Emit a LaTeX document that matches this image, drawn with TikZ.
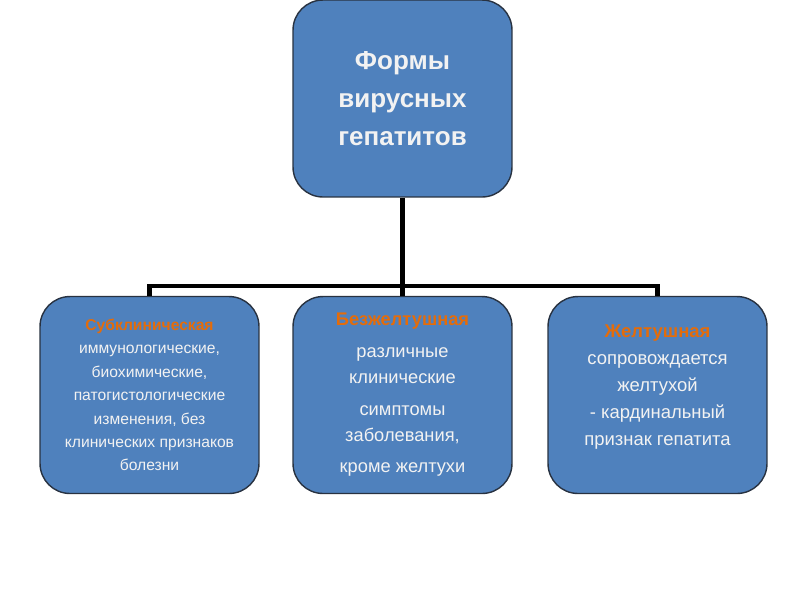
\documentclass[tikz,border=0pt]{standalone}
\usepackage{fontspec}
\setmainfont{Liberation Sans}
\usetikzlibrary{positioning,calc}
\definecolor{BoxBlue}{RGB}{79,129,189}
\definecolor{BoxEdge}{RGB}{40,50,65}
\definecolor{TitleOrange}{RGB}{228,108,10}
\definecolor{TextWhite}{RGB}{242,242,242}

\begin{document}
\begin{tikzpicture}[x=0.02cm,y=-0.02cm,
    formbox/.style={draw=BoxEdge,line width=0.8pt,fill=BoxBlue,
      rounded corners=0.6cm,minimum width=4.38cm,minimum height=3.94cm,
      align=center,text=TextWhite,inner sep=0pt},
    conn/.style={line width=2.8pt,black}]
  \useasboundingbox (0,0) rectangle (800,600);
  \node[formbox,font=\bfseries\fontsize{14.8}{21.5}\selectfont]
    (forms) at (402.5,98.5) {Формы\\вирусных\\гепатитов};
  \node[formbox,font=\fontsize{8.9}{13.3}\selectfont]
    (subclin) at (149.5,395)
    {{\color{TitleOrange}\bfseries Субклиническая}\\иммунологические,\\биохимические,\\
     патогистологические\\изменения, без\\клинических признаков\\болезни};
  \node[formbox,font=\fontsize{10.4}{14.7}\selectfont]
    (anicteric) at (402.5,395)
    {{\color{TitleOrange}\bfseries Безжелтушная}\\[3.4pt]различные\\клинические\\[3.4pt]
     симптомы\\заболевания,\\[3.4pt]кроме желтухи};
  \node[formbox,font=\fontsize{10.5}{15.3}\selectfont]
    (icteric) at (657.5,395)
    {{\color{TitleOrange}\bfseries Желтушная}\\сопровождается\\желтухой\\
     - кардинальный\\признак гепатита\\[-4pt]};
  \coordinate (bar) at (0,286);
  \draw[conn] (forms.south) -- (forms.south |- bar);
  \draw[conn] (subclin.north) -- (subclin.north |- bar) -| (icteric.north);
  \draw[conn] (anicteric.north) -- (anicteric.north |- bar);
\end{tikzpicture}
\end{document}
